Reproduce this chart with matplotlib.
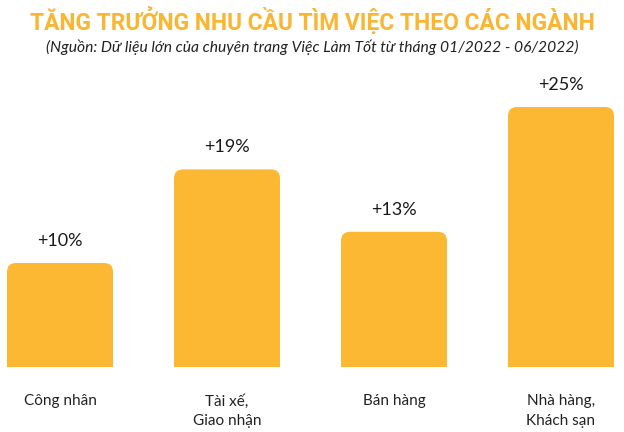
import matplotlib
matplotlib.use("Agg")
import matplotlib.pyplot as plt
from matplotlib.patches import FancyBboxPatch, Rectangle

categories = ["Công nhân", "Tài xế,\nGiao nhận", "Bán hàng", "Nhà hàng,\nKhách sạn"]
values = [10, 19, 13, 25]
value_labels = ["+10%", "+19%", "+13%", "+25%"]
title = "TĂNG TRƯỞNG NHU CẦU TÌM VIỆC THEO CÁC NGÀNH"
subtitle = "(Nguồn: Dữ liệu lớn của chuyên trang Việc Làm Tốt từ tháng 01/2022 - 06/2022)"

bar_color = "#FDB833"
title_color = "#FBB530"

W, H = 624, 432
fig = plt.figure(figsize=(W / 100, H / 100), dpi=100)
ax = fig.add_axes([0, 0, 1, 1])
ax.axis("off")

x_scale = 167.0   # px per category
y_scale = 10.4    # px per percent
x0_px = 60.0
base_px = 65.0
ax.set_xlim(-x0_px / x_scale, (W - x0_px) / x_scale)
ax.set_ylim(-base_px / y_scale, (H - base_px) / y_scale)

bw = 106.0 / x_scale
r_px = 9.0
r_x = r_px / x_scale
aspect = x_scale / y_scale

for i, v in enumerate(values):
    left = i - bw / 2
    p = FancyBboxPatch((left, 0), bw, v,
                       boxstyle=f"round,pad=0,rounding_size={r_x}",
                       mutation_aspect=aspect,
                       facecolor=bar_color, edgecolor="none")
    ax.add_patch(p)
    ax.add_patch(Rectangle((left, 0), bw, v / 2, facecolor=bar_color, edgecolor="none"))
    ax.text(i, v + 22 / y_scale, value_labels[i], ha="center", va="center",
            fontsize=13, family="Lato", color="#1a1a1a")
    ax.text(i, -27 / y_scale, categories[i], ha="center", va="top",
            fontsize=11, family="Lato", color="#222222", linespacing=1.5)

fig.text(0.5, 1 - 21 / H, title, ha="center", va="center", fontsize=16.4,
         family="Roboto", weight="bold", color=title_color)
fig.text(0.5, 1 - 47 / H, subtitle, ha="center", va="center", fontsize=11.25,
         family="Lato", style="italic", color="#222222")

fig.savefig("out.png", dpi=100)
